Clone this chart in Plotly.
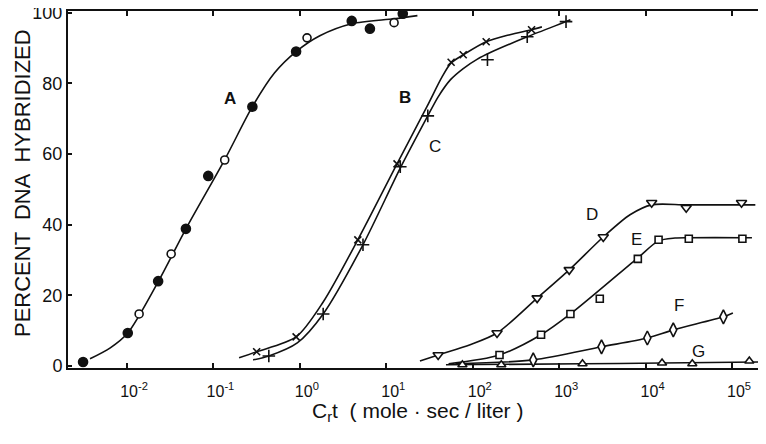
import math
import plotly.graph_objects as go

# ---------------- data ----------------
# Curve A: filled and open circles
a_filled_x = [0.0031, 0.0102, 0.0229, 0.048, 0.087, 0.282, 0.904, 3.98, 6.46, 15.5]
a_filled_y = [1.1, 9.3, 24.0, 38.8, 53.8, 73.4, 89.0, 97.7, 95.5, 99.7]
a_open_x = [0.0138, 0.0324, 0.135, 1.21, 12.3]
a_open_y = [14.7, 31.7, 58.3, 92.9, 97.2]
a_curve_x = [0.00373, 0.0064, 0.0102, 0.0229, 0.048, 0.135, 0.282, 0.51, 0.904, 1.70, 3.98, 12.3, 22.9]
a_curve_y = [2.0, 5.1, 9.3, 23.8, 38.8, 58.4, 73.4, 83.0, 89.0, 93.5, 96.9, 98.3, 99.2]

# Curve B: x markers
b_x = [0.316, 0.904, 4.68, 13.3, 56.2, 77.6, 143, 479]
b_y = [4.0, 8.2, 35.7, 57.2, 86.0, 88.1, 91.8, 95.2]
b_curve_x = [0.198, 0.316, 0.904, 1.86, 4.68, 13.3, 29.5, 44.3, 56.2, 77.6, 143, 269, 479, 631]
b_curve_y = [2.3, 4.0, 8.2, 18.1, 35.7, 57.2, 73.4, 81.9, 85.8, 88.1, 91.8, 93.8, 95.2, 96.0]

# Curve C: + markers
c_x = [0.437, 1.86, 5.37, 14.5, 30.2, 148, 427, 1200]
c_y = [2.8, 14.7, 34.3, 56.4, 70.8, 86.7, 93.2, 97.5]
c_curve_x = [0.288, 0.437, 0.933, 1.86, 5.37, 14.5, 30.2, 39.8, 55.0, 77.6, 112, 162, 427, 1202, 1349]
c_curve_y = [1.7, 2.8, 6.5, 14.7, 34.3, 56.0, 70.8, 76.2, 81.0, 84.2, 86.8, 88.8, 93.2, 97.5, 98.0]

# Curve D: inverted triangles
d_x = [39.8, 191, 556, 1306, 3236, 11750, 29500, 128800]
d_y = [3.1, 9.3, 19.2, 27.2, 36.5, 46.2, 44.8, 46.2]
d_curve_x = [24.5, 39.8, 93.3, 191, 556, 1306, 3236, 6600, 11750, 29500, 128800, 186000]
d_curve_y = [1.4, 3.1, 6.0, 9.3, 19.2, 27.2, 36.5, 42.8, 45.6, 45.6, 45.6, 45.6]

# Curve E: squares
e_x = [204, 617, 1349, 2951, 8130, 14130, 31600, 131800]
e_y = [3.1, 8.8, 14.7, 19.0, 30.3, 35.7, 36.0, 36.0]
e_curve_x = [52.5, 204, 617, 1349, 8130, 14130, 21900, 30900, 131800, 170000]
e_curve_y = [0.6, 3.1, 8.8, 14.7, 30.6, 35.4, 36.2, 36.3, 36.3, 36.3]

# Curve F: tall diamonds
f_x = [501, 3090, 10470, 20900, 79400]
f_y = [1.7, 5.4, 7.9, 10.2, 13.9]
f_curve_x = [63.1, 501, 3090, 10470, 20900, 79400, 102300]
f_curve_y = [0.6, 1.7, 5.4, 7.9, 10.2, 13.9, 15.0]

# Curve G: triangles
g_x = [75.9, 214, 1862, 15500, 34700, 158500]
g_y = [0.3, 0.3, 0.6, 0.8, 0.6, 1.4]
g_curve_x = [49, 1862, 15500, 224000]
g_curve_y = [0.3, 0.6, 0.8, 1.1]

tick_vals = [1e-2, 1e-1, 1e0, 1e1, 1e2, 1e3, 1e4, 1e5]
tick_text = ["10<sup>-2</sup>", "10<sup>-1</sup>", "10<sup>0</sup>", "10<sup>1</sup>",
             "10<sup>2</sup>", "10<sup>3</sup>", "10<sup>4</sup>", "10<sup>5</sup>"]
y_tick_vals = [0, 20, 40, 60, 80, 100]

curve_labels = ["A", "B", "C", "D", "E", "F", "G"]
label_x = [0.155, 16.6, 36.7, 2400, 7940, 24500, 40700]
label_y = [75.6, 75.9, 62.0, 42.8, 35.7, 17.0, 4.2]
label_bold = [True, True, False, False, False, False, False]

# ---------------- figure ----------------
FONT = "Liberation Sans"
BLACK = "#111111"
fig = go.Figure()

def add_curve(x, y):
    fig.add_trace(go.Scatter(x=x, y=y, mode="lines",
                             line=dict(color=BLACK, width=1.6, shape="spline", smoothing=0.8),
                             hoverinfo="skip", showlegend=False))

def add_points(x, y, symbol, size, fill):
    fig.add_trace(go.Scatter(x=x, y=y, mode="markers", showlegend=False,
                             marker=dict(symbol=symbol, size=size, color=fill,
                                         line=dict(color=BLACK, width=1.6))))

for cx, cy in [(a_curve_x, a_curve_y), (b_curve_x, b_curve_y), (c_curve_x, c_curve_y),
               (d_curve_x, d_curve_y), (e_curve_x, e_curve_y), (f_curve_x, f_curve_y),
               (g_curve_x, g_curve_y)]:
    add_curve(cx, cy)

add_points(a_filled_x, a_filled_y, "circle", 9, BLACK)
add_points(a_open_x, a_open_y, "circle", 8, "white")
add_points(b_x, b_y, "x-thin-open", 7, BLACK)
add_points(c_x, c_y, "cross-thin-open", 9, BLACK)
add_points(d_x, d_y, "triangle-down", 9, "white")
add_points(e_x, e_y, "square", 7, "white")
add_points(f_x, f_y, "diamond-tall", 10, "white")
add_points(g_x, g_y, "triangle-up", 8, "white")

for t, lx, ly, b in zip(curve_labels, label_x, label_y, label_bold):
    fig.add_annotation(x=math.log10(lx), y=ly, text=f"<b>{t}</b>" if b else t, showarrow=False,
                       font=dict(family=FONT, size=17, color=BLACK),
                       xanchor="center", yanchor="middle")

fig.add_annotation(xref="paper", yref="paper", x=-0.066, y=0.518,
                   text="PERCENT  DNA  HYBRIDIZED", textangle=-90, showarrow=False,
                   font=dict(family=FONT, size=22, color=BLACK),
                   xanchor="center", yanchor="middle")
fig.add_annotation(xref="paper", yref="paper", x=0.5, y=-0.123,
                   text="C<sub>r</sub>t  ( mole · sec / liter )", showarrow=False,
                   font=dict(family=FONT, size=21, color=BLACK),
                   xanchor="center", yanchor="middle")

# page body has an 8px margin: figure is sized/margined so the plot sits where the reference's does
fig.update_layout(
    width=758, height=436,
    margin=dict(l=60, r=0, t=3, b=76, autoexpand=False),
    paper_bgcolor="white", plot_bgcolor="white",
    xaxis=dict(type="log", range=[-2.683, 5.393], tickvals=tick_vals, ticktext=tick_text,
               ticks="inside", ticklen=5, tickwidth=1.5, tickcolor=BLACK,
               showline=True, linewidth=2, linecolor=BLACK, mirror="ticks",
               showgrid=False, zeroline=False, automargin=False,
               ticklabelshift=7, ticklabelstandoff=8, ticklabeloverflow="allow",
               tickfont=dict(family=FONT, size=16, color=BLACK)),
    yaxis=dict(range=[-0.6, 100.5], tickvals=y_tick_vals,
               ticks="inside", ticklen=4, tickwidth=1.5, tickcolor=BLACK,
               showline=True, linewidth=2, linecolor=BLACK, mirror=False,
               showgrid=False, zeroline=False, automargin=False,
               ticklabeloverflow="allow",
               tickfont=dict(family=FONT, size=18, color=BLACK)),
)

fig.write_html("out.html")
